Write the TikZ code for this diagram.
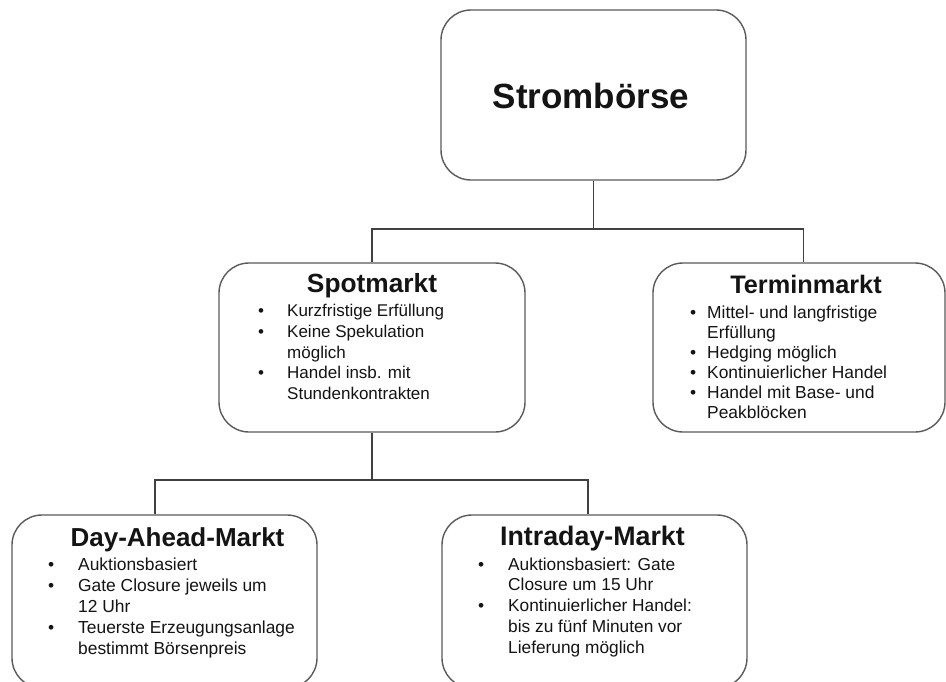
\documentclass[tikz,border=0pt]{standalone}
\usepackage{fontspec}
\setmainfont{Liberation Sans}
\usetikzlibrary{positioning}
\definecolor{boxline}{HTML}{5A5A5A}
\definecolor{connline}{HTML}{404040}
\definecolor{txt}{HTML}{141414}
\newcommand{\bl}{\makebox[29pt][l]{\textbullet}}
\newcommand{\blb}{\makebox[17pt][l]{\textbullet}}
\newcommand{\blc}{\makebox[30pt][l]{\textbullet}}
\begin{document}
\begin{tikzpicture}[x=1pt,y=-1pt,
  box/.style={draw=boxline,line width=1.4pt,rounded corners=30pt,rectangle,inner sep=0pt},
  conn/.style={draw=connline,line width=1.4pt},
  ttl/.style={anchor=base,inner sep=0pt,text=txt,font=\bfseries\fontsize{26}{30}\selectfont},
  lst/.style={anchor=base west,inner sep=0pt,text=txt}]
\clip (0,0) rectangle (946,681);
\fill[white] (0,0) rectangle (946,681);
% boxes
\node[box,minimum width=305pt,minimum height=170pt] (top) at (593.5,95) {};
\node[box,minimum width=306pt,minimum height=169pt] (spot) at (372,347.5) {};
\node[box,minimum width=292pt,minimum height=169pt] (term) at (799,347.5) {};
\node[box,minimum width=305pt,minimum height=173pt] (da) at (164.5,601.5) {};
\node[box,minimum width=305pt,minimum height=173pt] (id) at (594.5,601.5) {};
% connectors
\coordinate (bar1) at (593.5,229);
\coordinate (bar2) at (372,480);
\draw[conn] (top.south) -- (bar1);
\draw[conn] (spot.north) |- (bar1) -| ([xshift=4.5pt]term.north);
\draw[conn] (spot.south) -- (bar2);
\draw[conn] ([xshift=-9.5pt]da.north) |- (bar2) -| ([xshift=-6.5pt]id.north);
% titles
\node[ttl,font=\bfseries\fontsize{35}{40}\selectfont] (ttop) at (591,108) {Strombörse};
\node[ttl,font=\bfseries\fontsize{26.3}{30}\selectfont] (tspot) at (372,292.7) {Spotmarkt};
\node[ttl,font=\bfseries\fontsize{25.3}{30}\selectfont] (tterm) at (806,293) {Terminmarkt};
\node[ttl] (tda) at (177.5,546) {Day-Ahead-Markt};
\node[ttl,font=\bfseries\fontsize{26.8}{30}\selectfont] (tid) at (592.5,545) {Intraday-Markt};
% lists
\node[lst] (lspot) at (258,316.7) {\fontsize{17}{20.7}\selectfont
  \begin{tabular}[t]{@{}l@{}l@{}}
  \bl & Kurzfristige Erfüllung\\
  \bl & Keine Spekulation\\
      & möglich\\
  \bl & Handel insb. mit\\
      & Stundenkontrakten
  \end{tabular}};
\node[lst] (lterm) at (690,318) {\fontsize{17.4}{20}\selectfont
  \begin{tabular}[t]{@{}l@{}l@{}}
  \blb & Mittel- und langfristige\\
       & Erfüllung\\
  \blb & Hedging möglich\\
  \blb & Kontinuierlicher Handel\\
  \blb & Handel mit Base- und\\
       & Peakblöcken
  \end{tabular}};
\node[lst] (lda) at (48,570) {\fontsize{17.4}{21.2}\selectfont
  \begin{tabular}[t]{@{}l@{}l@{}}
  \blc & Auktionsbasiert\\
  \blc & Gate Closure jeweils um\\
       & 12 Uhr\\
  \blc & Teuerste Erzeugungsanlage\\
       & bestimmt Börsenpreis
  \end{tabular}};
\node[lst] (lid) at (478,570) {\fontsize{17.3}{20.8}\selectfont
  \begin{tabular}[t]{@{}l@{}l@{}}
  \blc & Auktionsbasiert: Gate\\
       & Closure um 15 Uhr\\
  \blc & Kontinuierlicher Handel:\\
       & bis zu fünf Minuten vor\\
       & Lieferung möglich
  \end{tabular}};
\end{tikzpicture}
\end{document}
